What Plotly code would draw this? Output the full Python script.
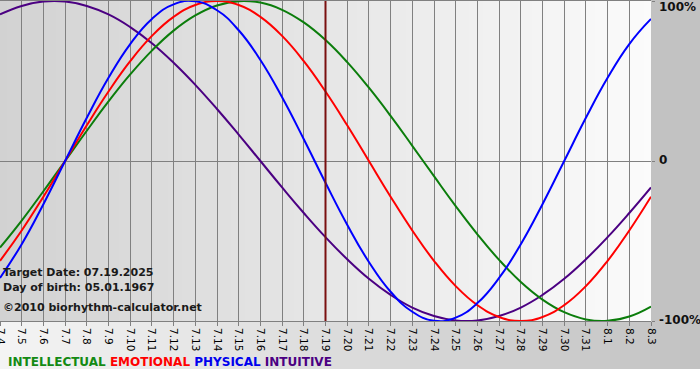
import plotly.graph_objects as go

# ---------------- data ----------------
dates = ["7.4", "7.5", "7.6", "7.7", "7.8", "7.9", "7.10", "7.11", "7.12", "7.13",
         "7.14", "7.15", "7.16", "7.17", "7.18", "7.19", "7.20", "7.21", "7.22", "7.23",
         "7.24", "7.25", "7.26", "7.27", "7.28", "7.29", "7.30", "7.31", "8.1", "8.2", "8.3"]

intellectual = [-0.541, -0.372, -0.189, 0.000, 0.189, 0.372, 0.541, 0.690, 0.815, 0.910,
                0.972, 0.999, 0.990, 0.945, 0.866, 0.756, 0.618, 0.458, 0.282, 0.095,
                -0.095, -0.282, -0.458, -0.618, -0.756, -0.866, -0.945, -0.990, -0.999, -0.972, -0.910]

emotional = [-0.624, -0.434, -0.223, 0.000, 0.223, 0.434, 0.624, 0.782, 0.901, 0.975,
             1.000, 0.975, 0.901, 0.782, 0.624, 0.434, 0.223, 0.000, -0.223, -0.434,
             -0.624, -0.782, -0.901, -0.975, -1.000, -0.975, -0.901, -0.782, -0.624, -0.434, -0.223]

physical = [-0.731, -0.520, -0.270, 0.000, 0.270, 0.520, 0.731, 0.888, 0.979, 0.998,
            0.942, 0.817, 0.631, 0.398, 0.136, -0.136, -0.398, -0.631, -0.817, -0.942,
            -0.998, -0.979, -0.888, -0.731, -0.520, -0.270, 0.000, 0.270, 0.520, 0.731, 0.888]

intuitive = [0.916, 0.969, 0.997, 0.997, 0.969, 0.916, 0.837, 0.736, 0.614, 0.476,
             0.325, 0.165, 0.000, -0.165, -0.325, -0.476, -0.614, -0.736, -0.837, -0.916,
             -0.969, -0.997, -0.997, -0.969, -0.916, -0.837, -0.736, -0.614, -0.476, -0.325, -0.165]

target_label = "7.19"
y_tick_vals = [1, 0, -1]
y_tick_text = ["100%", "0", "-100%"]
info_lines = ["Target Date: 07.19.2025", "Day of birth: 05.01.1967", "\u00a92010 biorhythm-calculator.net"]
info_y = [-0.694, -0.79, -0.915]

series = [
    ("INTUITIVE", intuitive, "#4b0082"),
    ("INTELLECTUAL", intellectual, "#0b7d0b"),
    ("EMOTIONAL", emotional, "#ff0000"),
    ("PHYSICAL", physical, "#0000ff"),
]
legend_order = [("INTELLECTUAL", "#148a14"), ("EMOTIONAL", "#ff0000"),
                ("PHYSICAL", "#0000ee"), ("INTUITIVE", "#4b0082")]

# ---------------- layout helpers ----------------
W, H = 700, 380
ML, MR, MT, MB = 0, 49, 1, 59
PW = W - ML - MR
PH = H - MT - MB


def px_x(px):
    return (px - ML) / PW


def px_y(py):
    return (H - MB - py) / PH


def hexrgb(h):
    h = h.lstrip("#")
    return tuple(int(h[i:i + 2], 16) for i in (0, 2, 4))


def lerp(c0, c1, t):
    a, b = hexrgb(c0), hexrgb(c1)
    return "rgb(%d,%d,%d)" % tuple(round(a[i] + (b[i] - a[i]) * t) for i in range(3))


shapes = []
# plot-area gradient
n = 93
for i in range(n):
    shapes.append(dict(type="rect", xref="paper", yref="paper", layer="below",
                       x0=i / n, x1=(i + 1) / n + 0.002, y0=0, y1=1,
                       fillcolor=lerp("#d2d2d2", "#fbfbfb", (i + 0.5) / n), line_width=0))
# right band
shapes.append(dict(type="rect", xref="paper", yref="paper", layer="below",
                   x0=1, x1=px_x(W), y0=px_y(H - MB), y1=px_y(0),
                   fillcolor="#c2c2c2", line_width=0))
# bottom band gradient
m = 70
for i in range(m):
    shapes.append(dict(type="rect", xref="paper", yref="paper", layer="below",
                       x0=px_x(i * W / m), x1=px_x((i + 1) * W / m + 0.5),
                       y0=px_y(369), y1=px_y(H - MB),
                       fillcolor=lerp("#f4f4f4", "#c2c2c2", (i + 0.5) / m), line_width=0))

idx = list(range(len(dates)))
t_idx = dates.index(target_label)
shapes.append(dict(type="line", xref="x", yref="y", layer="above",
                   x0=t_idx, x1=t_idx, y0=-1, y1=1,
                   line=dict(color="#7a1010", width=2)))

fig = go.Figure()
for name, vals, col in series:
    fig.add_trace(go.Scatter(x=idx, y=vals, mode="lines", name=name,
                             line=dict(color=col, width=2, shape="spline", smoothing=1.3),
                             hoverinfo="skip"))

annotations = []
shifts = {1: -6, 0: 1, -1: 1}
for v, t in zip(y_tick_vals, y_tick_text):
    annotations.append(dict(xref="paper", yref="y", x=1, y=v, text="<b>%s</b>" % t,
                            xanchor="left", yanchor="middle", xshift=6, yshift=shifts[v],
                            showarrow=False,
                            font=dict(family="DejaVu Sans", size=12, color="#111111")))
for t, yv in zip(info_lines, info_y):
    annotations.append(dict(xref="paper", yref="y", x=0, y=yv, text="<b>%s</b>" % t,
                            xanchor="left", yanchor="middle", xshift=1, showarrow=False,
                            font=dict(family="DejaVu Sans", size=11, color="#1a1a1a")))
legend_text = " ".join("<span style='color:%s'>%s</span>" % (c, nm) for nm, c in legend_order)
annotations.append(dict(xref="paper", yref="paper", x=0, y=px_y(362), text="<b>%s</b>" % legend_text,
                        xanchor="left", yanchor="middle", xshift=6, showarrow=False,
                        font=dict(family="DejaVu Sans", size=12)))

fig.update_layout(
    width=W, height=H,
    margin=dict(l=ML, r=MR, t=MT, b=MB, pad=0),
    paper_bgcolor="white", plot_bgcolor="rgba(0,0,0,0)",
    showlegend=False,
    shapes=shapes, annotations=annotations,
    xaxis=dict(range=[0, len(dates) - 1], tickvals=idx, ticktext=dates, tickangle=90,
               ticks="outside", ticklen=4, tickcolor="#808080",
               showgrid=True, gridcolor="#808080", gridwidth=1,
               showline=True, linecolor="#808080", linewidth=1, mirror=True,
               zeroline=False, automargin=False, fixedrange=True,
               ticklabeloverflow="allow",
               tickfont=dict(family="DejaVu Sans", size=10.5, color="#000000")),
    yaxis=dict(range=[-1, 1], side="right", tickvals=y_tick_vals, showticklabels=False,
               ticks="outside", ticklen=3, tickcolor="#808080",
               showgrid=True, gridcolor="#808080", gridwidth=1,
               zeroline=False, showline=False, automargin=False, fixedrange=True),
)

fig.write_html("out.html", config={"displayModeBar": False},
               post_script="document.body.style.margin='0';document.body.style.overflow='hidden';")
